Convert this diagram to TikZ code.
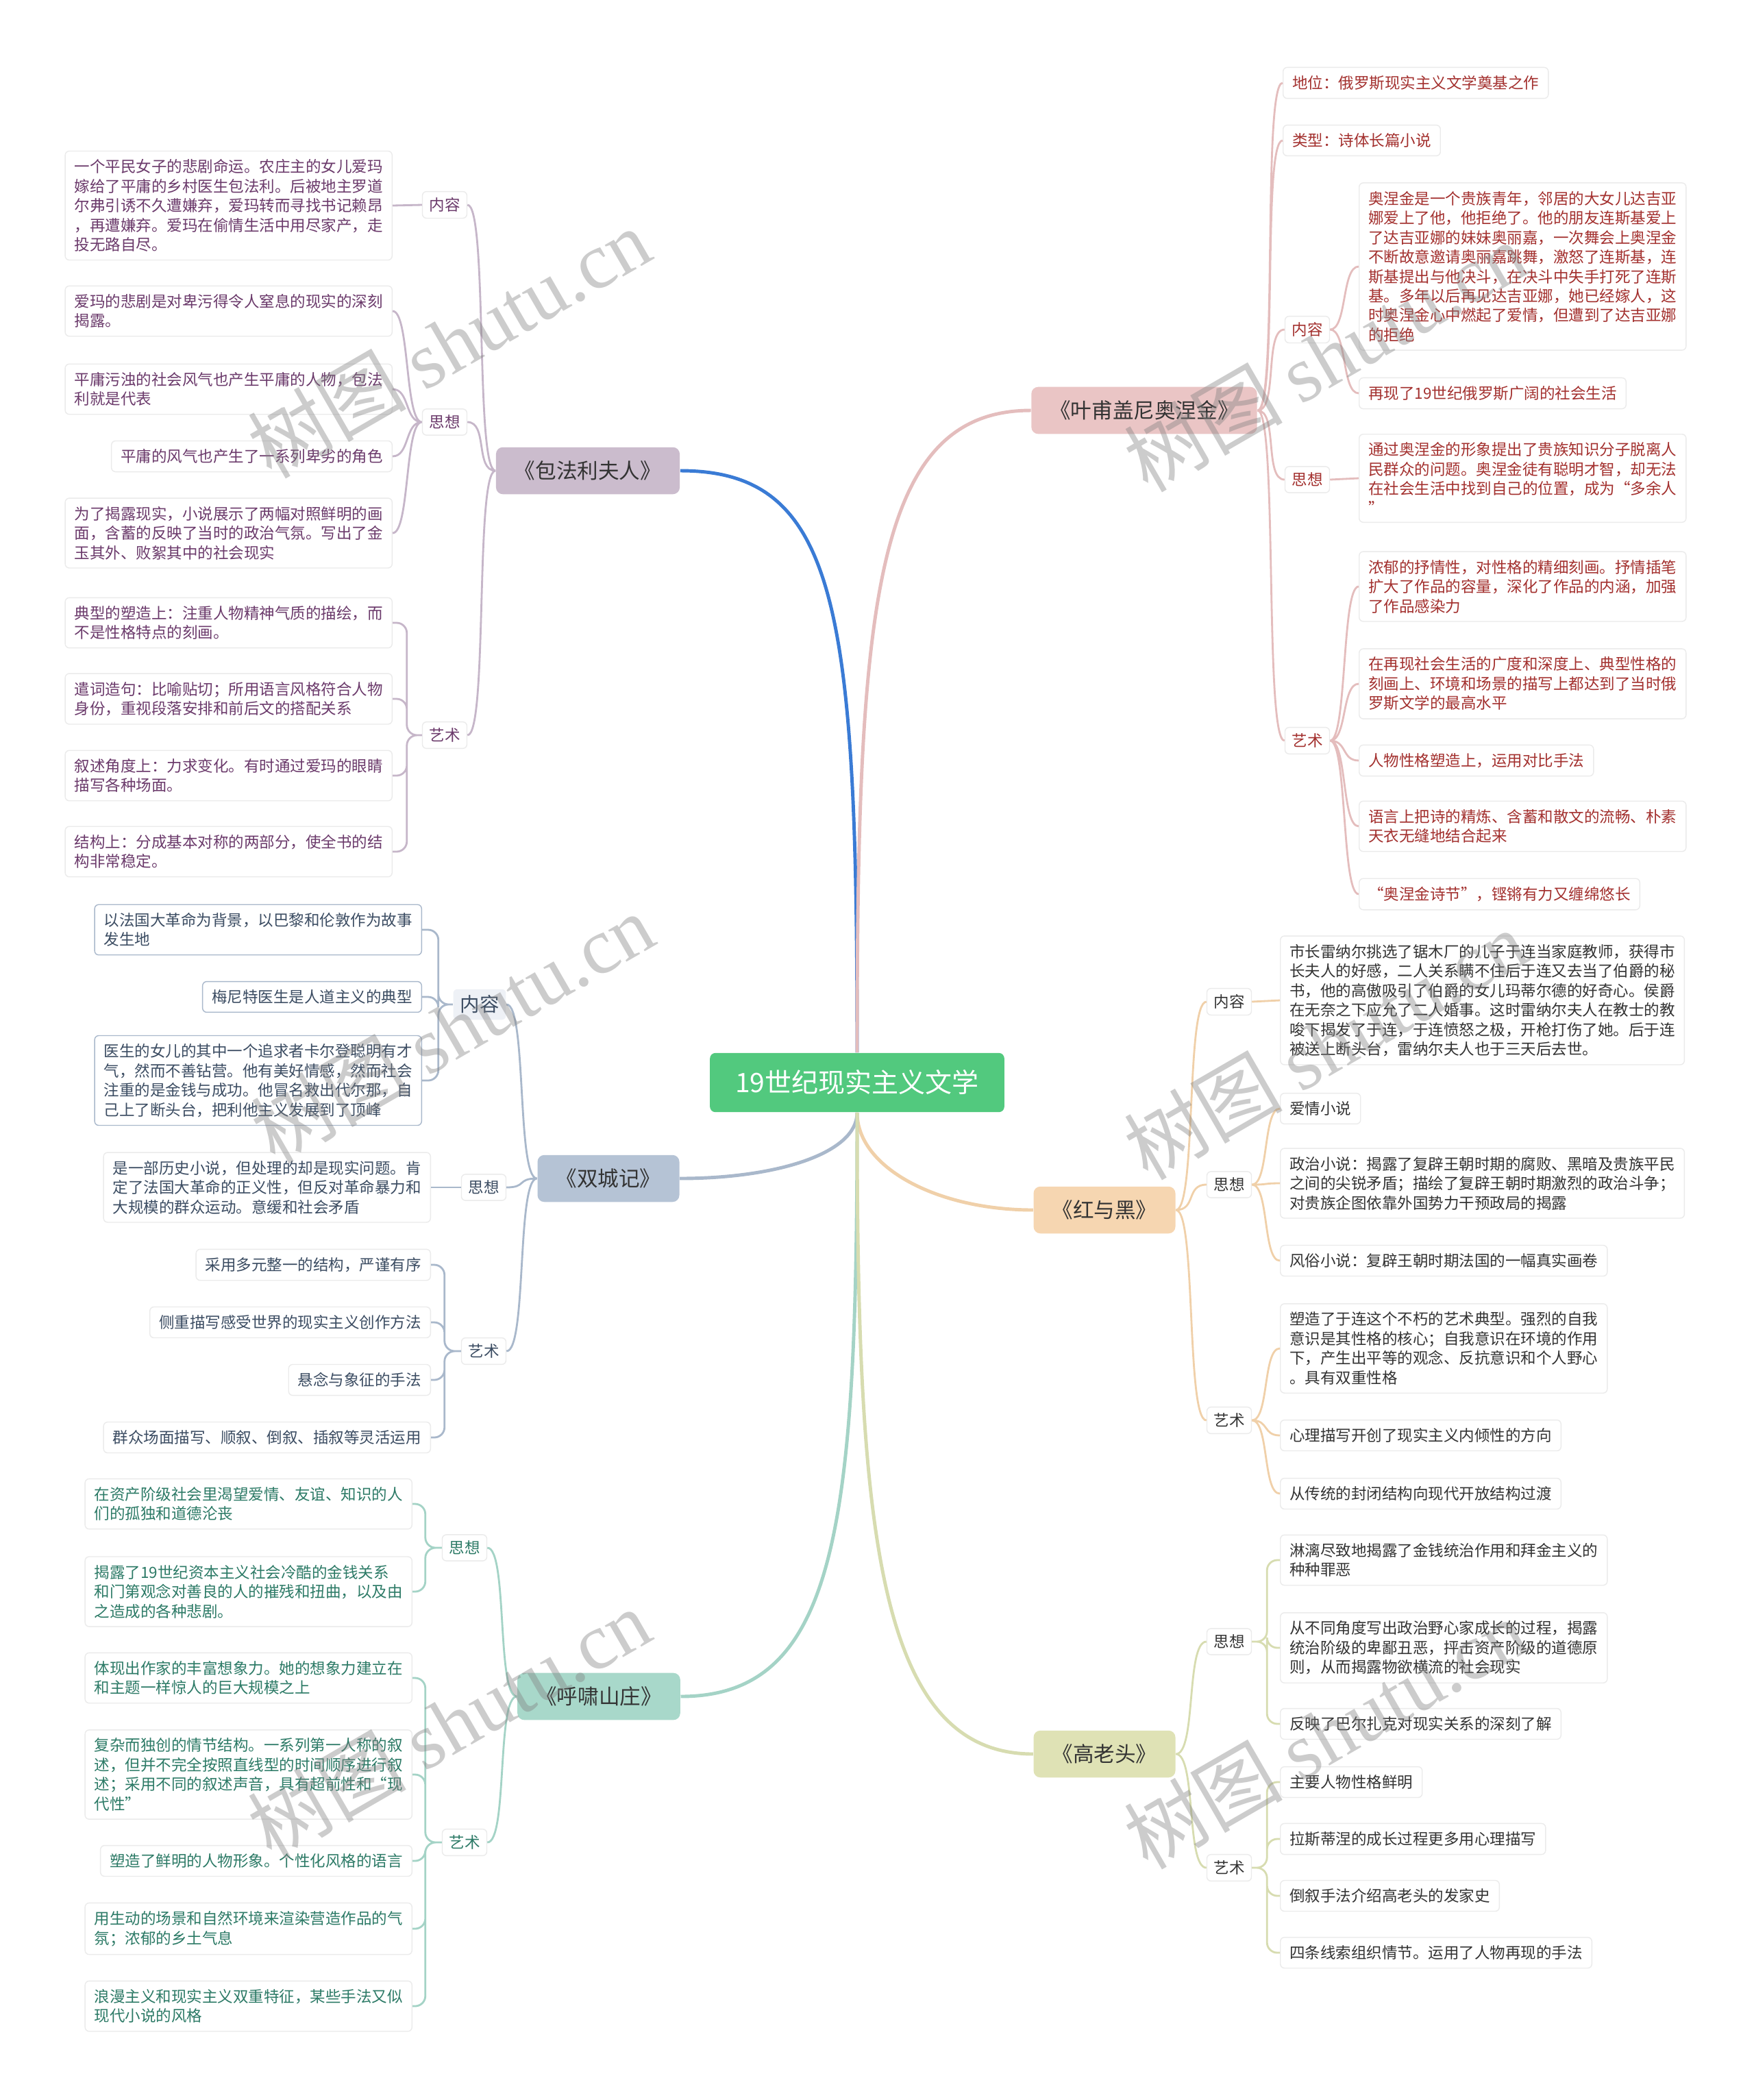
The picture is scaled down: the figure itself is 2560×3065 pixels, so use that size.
\documentclass[tikz,border=0pt]{standalone}
\usepackage{fontspec}
\setmainfont{Noto Sans CJK SC}
\newfontfamily\wmlatin{Liberation Serif}

\definecolor{rootgreen}{HTML}{52C97E}
\definecolor{bovfill}{HTML}{CBBCCD}
\definecolor{bovline}{HTML}{3A7BD5}
\definecolor{bovtwig}{HTML}{C6B6C9}
\definecolor{bovtext}{HTML}{6B3A6B}
\definecolor{cityfill}{HTML}{B5C3D5}
\definecolor{cityline}{HTML}{A9B8CB}
\definecolor{cityshade}{HTML}{EEF1F6}
\definecolor{citytext}{HTML}{3B4C62}
\definecolor{wuthfill}{HTML}{A8D8CA}
\definecolor{wuthline}{HTML}{A4D3C6}
\definecolor{wuthtext}{HTML}{2C7A66}
\definecolor{onegfill}{HTML}{EAC5C5}
\definecolor{onegline}{HTML}{E4BDBD}
\definecolor{onegtext}{HTML}{A3302E}
\definecolor{redfill}{HTML}{F6D6B1}
\definecolor{redline}{HTML}{F0D0A9}
\definecolor{gorfill}{HTML}{DFE2B5}
\definecolor{gorline}{HTML}{D7DCB0}
\definecolor{plaintext}{HTML}{333333}
\definecolor{boxedge}{HTML}{EBEBEB}

\tikzset{
  centre/.style={fill=rootgreen, text=white, rounded corners=0.08cm, inner xsep=0.37cm, inner ysep=0.25cm, font=\fontsize{11.1pt}{13pt}\selectfont},
  book/.style={fill=#1, text=plaintext, rounded corners=0.1cm, inner xsep=0.27cm, inner ysep=0.2cm, font=\fontsize{8.7pt}{10pt}\selectfont},
  topic/.style={draw=boxedge, fill=white, text=#1, rounded corners=0.06cm, inner xsep=0.1cm, inner ysep=0.09cm, font=\fontsize{6.4pt}{8.1pt}\selectfont},
  leaf/.style={draw=boxedge, fill=white, text=#1, rounded corners=0.06cm, inner xsep=0.135cm, inner ysep=0.12cm, align=left, font=\fontsize{6.4pt}{8.1pt}\selectfont},
  trunk/.style={draw=#1, line width=1.4pt},
  twig/.style={draw=#1, line width=0.8pt, rounded corners=0.15cm},
  curveL/.style={to path={.. controls +(-#1,0) and +(#1,0) .. (\tikztotarget) \tikztonodes}},
  curveR/.style={to path={.. controls +(#1,0) and +(-#1,0) .. (\tikztotarget) \tikztonodes}},
  elbowL/.style={to path={-- ++(-#1,0) |- (\tikztotarget) \tikztonodes}},
  elbowR/.style={to path={-- ++(#1,0) |- (\tikztotarget) \tikztonodes}},
  wmark/.style={text=gray, opacity=0.4, rotate=30, font=\fontsize{33pt}{33pt}\selectfont}
}

\begin{document}
\begin{tikzpicture}[x=0.01cm,y=-0.01cm]
  \fill[white] (0,0) rectangle (2560,3065);
  \useasboundingbox (0,0) rectangle (2560,3065);

  % centre and the six novels
  \node[centre] (root) at (1251,1580) {19世纪现实主义文学};
  \node[book=bovfill] (bov) at (858,687) {《包法利夫人》};
  \node[book=cityfill] (city) at (888,1720) {《双城记》};
  \node[book=wuthfill] (wuth) at (874,2476) {《呼啸山庄》};
  \node[book=onegfill] (oneg) at (1670,599) {《叶甫盖尼奥涅金》};
  \node[book=redfill] (red) at (1612,1766) {《红与黑》};
  \node[book=gorfill] (gor) at (1612,2560) {《高老头》};

  % 包法利夫人
  \node[topic=bovtext] (bovA) at (649,299) {内容};
  \node[topic=bovtext] (bovB) at (649,616) {思想};
  \node[topic=bovtext] (bovC) at (649,1073) {艺术};
  \node[leaf=bovtext, anchor=east] (bovA1) at (573,300) {一个平民女子的悲剧命运。农庄主的女儿爱玛\\嫁给了平庸的乡村医生包法利。后被地主罗道\\尔弗引诱不久遭嫌弃，爱玛转而寻找书记赖昂\\，再遭嫌弃。爱玛在偷情生活中用尽家产，走\\投无路自尽。};
  \node[leaf=bovtext, anchor=east] (bovB1) at (573,454) {爱玛的悲剧是对卑污得令人窒息的现实的深刻\\揭露。};
  \node[leaf=bovtext, anchor=east] (bovB2) at (573,568) {平庸污浊的社会风气也产生平庸的人物，包法\\利就是代表};
  \node[leaf=bovtext, anchor=east] (bovB3) at (573,666) {平庸的风气也产生了一系列卑劣的角色};
  \node[leaf=bovtext, anchor=east] (bovB4) at (573,778) {为了揭露现实，小说展示了两幅对照鲜明的画\\面，含蓄的反映了当时的政治气氛。写出了金\\玉其外、败絮其中的社会现实};
  \node[leaf=bovtext, anchor=east] (bovC1) at (573,909) {典型的塑造上：注重人物精神气质的描绘，而\\不是性格特点的刻画。};
  \node[leaf=bovtext, anchor=east] (bovC2) at (573,1020) {遣词造句：比喻贴切；所用语言风格符合人物\\身份，重视段落安排和前后文的搭配关系};
  \node[leaf=bovtext, anchor=east] (bovC3) at (573,1132) {叙述角度上：力求变化。有时通过爱玛的眼睛\\描写各种场面。};
  \node[leaf=bovtext, anchor=east] (bovC4) at (573,1243) {结构上：分成基本对称的两部分，使全书的结\\构非常稳定。};

  % 双城记
  \node[topic=citytext, fill=cityshade, draw=none, font=\fontsize{8.1pt}{9pt}\selectfont] (cityA) at (700,1466) {内容};
  \node[topic=citytext] (cityB) at (706,1733) {思想};
  \node[topic=citytext] (cityC) at (706,1972) {艺术};
  \node[leaf=citytext, draw=cityline, anchor=east] (cityA1) at (616,1357) {以法国大革命为背景，以巴黎和伦敦作为故事\\发生地};
  \node[leaf=citytext, draw=cityline, anchor=east] (cityA2) at (616,1455) {梅尼特医生是人道主义的典型};
  \node[leaf=citytext, draw=cityline, anchor=east] (cityA3) at (616,1577) {医生的女儿的其中一个追求者卡尔登聪明有才\\气，然而不善钻营。他有美好情感，然而社会\\注重的是金钱与成功。他冒名救出代尔那，自\\己上了断头台，把利他主义发展到了顶峰};
  \node[leaf=citytext, anchor=east] (cityB1) at (629,1733) {是一部历史小说，但处理的却是现实问题。肯\\定了法国大革命的正义性，但反对革命暴力和\\大规模的群众运动。意缓和社会矛盾};
  \node[leaf=citytext, anchor=east] (cityC1) at (629,1846) {采用多元整一的结构，严谨有序};
  \node[leaf=citytext, anchor=east] (cityC2) at (629,1930) {侧重描写感受世界的现实主义创作方法};
  \node[leaf=citytext, anchor=east] (cityC3) at (629,2014) {悬念与象征的手法};
  \node[leaf=citytext, anchor=east] (cityC4) at (629,2098) {群众场面描写、顺叙、倒叙、插叙等灵活运用};

  % 呼啸山庄
  \node[topic=wuthtext] (wuthA) at (678,2259) {思想};
  \node[topic=wuthtext] (wuthB) at (678,2689) {艺术};
  \node[leaf=wuthtext, anchor=east] (wuthA1) at (602,2195) {在资产阶级社会里渴望爱情、友谊、知识的人\\们的孤独和道德沦丧};
  \node[leaf=wuthtext, anchor=east] (wuthA2) at (602,2323) {揭露了19世纪资本主义社会冷酷的金钱关系\\和门第观念对善良的人的摧残和扭曲，以及由\\之造成的各种悲剧。};
  \node[leaf=wuthtext, anchor=east] (wuthB1) at (602,2449) {体现出作家的丰富想象力。她的想象力建立在\\和主题一样惊人的巨大规模之上};
  \node[leaf=wuthtext, anchor=east] (wuthB2) at (602,2590) {复杂而独创的情节结构。一系列第一人称的叙\\述，但并不完全按照直线型的时间顺序进行叙\\述；采用不同的叙述声音，具有超前性和“现\\代性”};
  \node[leaf=wuthtext, anchor=east] (wuthB3) at (602,2716) {塑造了鲜明的人物形象。个性化风格的语言};
  \node[leaf=wuthtext, anchor=east] (wuthB4) at (602,2815) {用生动的场景和自然环境来渲染营造作品的气\\氛；浓郁的乡土气息};
  \node[leaf=wuthtext, anchor=east] (wuthB5) at (602,2928) {浪漫主义和现实主义双重特征，某些手法又似\\现代小说的风格};

  % 叶甫盖尼奥涅金
  \node[leaf=onegtext, anchor=west] (onegL1) at (1872,121) {地位：俄罗斯现实主义文学奠基之作};
  \node[leaf=onegtext, anchor=west] (onegL2) at (1872,205) {类型：诗体长篇小说};
  \node[topic=onegtext] (onegA) at (1908,481) {内容};
  \node[topic=onegtext] (onegB) at (1908,700) {思想};
  \node[topic=onegtext] (onegC) at (1908,1081) {艺术};
  \node[leaf=onegtext, anchor=west] (onegA1) at (1983,389) {奥涅金是一个贵族青年，邻居的大女儿达吉亚\\娜爱上了他，他拒绝了。他的朋友连斯基爱上\\了达吉亚娜的妹妹奥丽嘉，一次舞会上奥涅金\\不断故意邀请奥丽嘉跳舞，激怒了连斯基，连\\斯基提出与他决斗，在决斗中失手打死了连斯\\基。多年以后再见达吉亚娜，她已经嫁人，这\\时奥涅金心中燃起了爱情，但遭到了达吉亚娜\\的拒绝};
  \node[leaf=onegtext, anchor=west] (onegA2) at (1983,574) {再现了19世纪俄罗斯广阔的社会生活};
  \node[leaf=onegtext, anchor=west] (onegB1) at (1983,698) {通过奥涅金的形象提出了贵族知识分子脱离人\\民群众的问题。奥涅金徒有聪明才智，却无法\\在社会生活中找到自己的位置，成为“多余人\\”};
  \node[leaf=onegtext, anchor=west] (onegC1) at (1983,856) {浓郁的抒情性，对性格的精细刻画。抒情插笔\\扩大了作品的容量，深化了作品的内涵，加强\\了作品感染力};
  \node[leaf=onegtext, anchor=west] (onegC2) at (1983,998) {在再现社会生活的广度和深度上、典型性格的\\刻画上、环境和场景的描写上都达到了当时俄\\罗斯文学的最高水平};
  \node[leaf=onegtext, anchor=west] (onegC3) at (1983,1110) {人物性格塑造上，运用对比手法};
  \node[leaf=onegtext, anchor=west] (onegC4) at (1983,1206) {语言上把诗的精炼、含蓄和散文的流畅、朴素\\天衣无缝地结合起来};
  \node[leaf=onegtext, anchor=west] (onegC5) at (1983,1305) {“奥涅金诗节”，铿锵有力又缠绵悠长};

  % 红与黑
  \node[topic=plaintext] (redA) at (1794,1462) {内容};
  \node[topic=plaintext] (redB) at (1794,1729) {思想};
  \node[topic=plaintext] (redC) at (1794,2073) {艺术};
  \node[leaf=plaintext, anchor=west] (redA1) at (1868,1460) {市长雷纳尔挑选了锯木厂的儿子于连当家庭教师，获得市\\长夫人的好感，二人关系瞒不住后于连又去当了伯爵的秘\\书，他的高傲吸引了伯爵的女儿玛蒂尔德的好奇心。侯爵\\在无奈之下应允了二人婚事。这时雷纳尔夫人在教士的教\\唆下揭发了于连，于连愤怒之极，开枪打伤了她。后于连\\被送上断头台，雷纳尔夫人也于三天后去世。};
  \node[leaf=plaintext, anchor=west] (redB1) at (1868,1618) {爱情小说};
  \node[leaf=plaintext, anchor=west] (redB2) at (1868,1727) {政治小说：揭露了复辟王朝时期的腐败、黑暗及贵族平民\\之间的尖锐矛盾；描绘了复辟王朝时期激烈的政治斗争；\\对贵族企图依靠外国势力干预政局的揭露};
  \node[leaf=plaintext, anchor=west] (redB3) at (1868,1840) {风俗小说：复辟王朝时期法国的一幅真实画卷};
  \node[leaf=plaintext, anchor=west] (redC1) at (1868,1968) {塑造了于连这个不朽的艺术典型。强烈的自我\\意识是其性格的核心；自我意识在环境的作用\\下，产生出平等的观念、反抗意识和个人野心\\。具有双重性格};
  \node[leaf=plaintext, anchor=west] (redC2) at (1868,2095) {心理描写开创了现实主义内倾性的方向};
  \node[leaf=plaintext, anchor=west] (redC3) at (1868,2180) {从传统的封闭结构向现代开放结构过渡};

  % 高老头
  \node[topic=plaintext] (gorA) at (1794,2396) {思想};
  \node[topic=plaintext] (gorB) at (1794,2726) {艺术};
  \node[leaf=plaintext, anchor=west] (gorA1) at (1868,2277) {淋漓尽致地揭露了金钱统治作用和拜金主义的\\种种罪恶};
  \node[leaf=plaintext, anchor=west] (gorA2) at (1868,2405) {从不同角度写出政治野心家成长的过程，揭露\\统治阶级的卑鄙丑恶，抨击资产阶级的道德原\\则，从而揭露物欲横流的社会现实};
  \node[leaf=plaintext, anchor=west] (gorA3) at (1868,2516) {反映了巴尔扎克对现实关系的深刻了解};
  \node[leaf=plaintext, anchor=west] (gorB1) at (1868,2601) {主要人物性格鲜明};
  \node[leaf=plaintext, anchor=west] (gorB2) at (1868,2684) {拉斯蒂涅的成长过程更多用心理描写};
  \node[leaf=plaintext, anchor=west] (gorB3) at (1868,2767) {倒叙手法介绍高老头的发家史};
  \node[leaf=plaintext, anchor=west] (gorB4) at (1868,2850) {四条线索组织情节。运用了人物再现的手法};

  % centre to novels
  \draw[trunk=bovline] (root.north) .. controls +(0,-650) and +(230,0) .. (bov.east);
  \draw[trunk=onegline] (root.north) .. controls +(0,-650) and +(-230,0) .. (oneg.west);
  \draw[trunk=cityline] (root.south) .. controls +(0,60) and +(140,0) .. (city.east);
  \draw[trunk=redline] (root.south) .. controls +(0,80) and +(-140,0) .. (red.west);
  \draw[trunk=wuthline] (root.south) .. controls +(0,600) and +(230,0) .. (wuth.east);
  \draw[trunk=gorline] (root.south) .. controls +(0,600) and +(-230,0) .. (gor.west);

  % novels to topics
  \draw[twig=bovtwig] (bov.west) to[curveL=30] (bovA.east) (bov.west) to[curveL=30] (bovB.east) (bov.west) to[curveL=30] (bovC.east);
  \draw[twig=cityline] (city.west) to[curveL=30] (cityA.east) (city.west) to[curveL=30] (cityB.east) (city.west) to[curveL=30] (cityC.east);
  \draw[twig=wuthline] (wuth.west) to[curveL=30] (wuthA.east) (wuth.west) to[curveL=30] (wuthB.east);
  \draw[twig=onegline] (oneg.east) to[curveR=30] (onegL1.west) (oneg.east) to[curveR=30] (onegL2.west) (oneg.east) to[curveR=30] (onegA.west) (oneg.east) to[curveR=30] (onegB.west) (oneg.east) to[curveR=30] (onegC.west);
  \draw[twig=redline] (red.east) to[curveR=30] (redA.west) (red.east) to[curveR=30] (redB.west) (red.east) to[curveR=30] (redC.west);
  \draw[twig=gorline] (gor.east) to[curveR=30] (gorA.west) (gor.east) to[curveR=30] (gorB.west);

  % topics to leaves
  \draw[twig=bovtwig] (bovA.west) -- (bovA1.east);
  \draw[twig=bovtwig] (bovB.west) to[curveL=25] (bovB1.east) (bovB.west) to[curveL=25] (bovB2.east) (bovB.west) to[curveL=25] (bovB3.east) (bovB.west) to[curveL=25] (bovB4.east);
  \draw[twig=bovtwig] (bovC.west) to[elbowL=22] (bovC1.east) (bovC.west) to[elbowL=22] (bovC2.east) (bovC.west) to[elbowL=22] (bovC3.east) (bovC.west) to[elbowL=22] (bovC4.east);
  \draw[twig=cityline] (cityA.west) to[elbowL=21] (cityA1.east) (cityA.west) to[elbowL=21] (cityA2.east) (cityA.west) to[elbowL=21] (cityA3.east);
  \draw[twig=cityline] (cityB.west) -- (cityB1.east);
  \draw[twig=cityline] (cityC.west) to[elbowL=24] (cityC1.east) (cityC.west) to[elbowL=24] (cityC2.east) (cityC.west) to[elbowL=24] (cityC3.east) (cityC.west) to[elbowL=24] (cityC4.east);
  \draw[twig=wuthline] (wuthA.west) to[elbowL=24] (wuthA1.east) (wuthA.west) to[elbowL=24] (wuthA2.east);
  \draw[twig=wuthline] (wuthB.west) to[elbowL=24] (wuthB1.east) (wuthB.west) to[elbowL=24] (wuthB2.east) (wuthB.west) to[elbowL=24] (wuthB3.east) (wuthB.west) to[elbowL=24] (wuthB4.east) (wuthB.west) to[elbowL=24] (wuthB5.east);
  \draw[twig=onegline] (onegA.east) to[curveR=25] (onegA1.west) (onegA.east) to[curveR=25] (onegA2.west);
  \draw[twig=onegline] (onegB.east) -- (onegB1.west);
  \draw[twig=onegline] (onegC.east) to[curveR=25] (onegC1.west) (onegC.east) to[curveR=25] (onegC2.west) (onegC.east) to[curveR=25] (onegC3.west) (onegC.east) to[curveR=25] (onegC4.west) (onegC.east) to[curveR=25] (onegC5.west);
  \draw[twig=redline] (redA.east) -- (redA1.west);
  \draw[twig=redline] (redB.east) to[curveR=25] (redB1.west) (redB.east) to[curveR=25] (redB2.west) (redB.east) to[curveR=25] (redB3.west);
  \draw[twig=redline] (redC.east) to[curveR=25] (redC1.west) (redC.east) to[curveR=25] (redC2.west) (redC.east) to[curveR=25] (redC3.west);
  \draw[twig=gorline] (gorA.east) to[elbowR=22] (gorA1.west) (gorA.east) to[elbowR=22] (gorA2.west) (gorA.east) to[elbowR=22] (gorA3.west);
  \draw[twig=gorline] (gorB.east) to[elbowR=22] (gorB1.west) (gorB.east) to[elbowR=22] (gorB2.west) (gorB.east) to[elbowR=22] (gorB3.west) (gorB.east) to[elbowR=22] (gorB4.west);

  % watermarks
  \node[wmark] (wm1) at (655,500) {树图 {\wmlatin shutu.cn}};
  \node[wmark] (wm2) at (660,1500) {树图 {\wmlatin shutu.cn}};
  \node[wmark] (wm3) at (655,2515) {树图 {\wmlatin shutu.cn}};
  \node[wmark] (wm4) at (1934,520) {树图 {\wmlatin shutu.cn}};
  \node[wmark] (wm5) at (1934,1524) {树图 {\wmlatin shutu.cn}};
  \node[wmark] (wm6) at (1934,2530) {树图 {\wmlatin shutu.cn}};
\end{tikzpicture}
\end{document}
